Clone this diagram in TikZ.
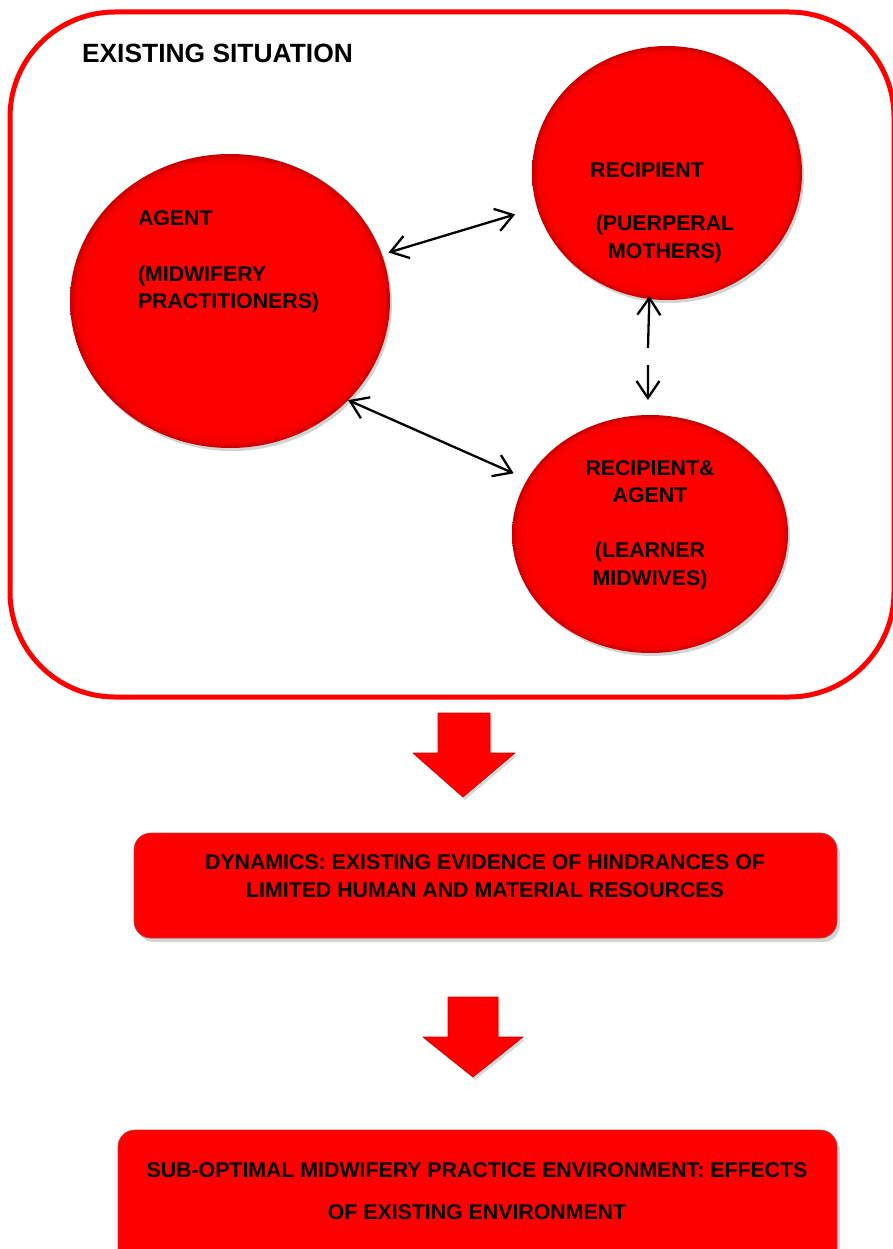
\documentclass[tikz,border=0pt]{standalone}
\usepackage{fontspec}
\setmainfont{Liberation Sans}
\usetikzlibrary{arrows.meta,shapes.geometric,shadows}

\definecolor{vivid}{HTML}{FF0000}
\definecolor{rim}{HTML}{C40000}
\definecolor{panelline}{HTML}{BE3C3C}

% red disc with a darker rim towards its edge
\pgfdeclareradialshading{bevelred}{\pgfpoint{0bp}{0bp}}{%
  color(0bp)=(vivid); color(22bp)=(vivid); color(24bp)=(vivid!85!rim);
  color(25bp)=(rim); color(50bp)=(rim)}

\begin{document}
\begin{tikzpicture}[x=1pt,y=-1pt,
  every node/.style={inner sep=0pt,outer sep=0pt},
  frame/.style={draw=vivid,line width=5pt,rounded corners=105pt,rectangle},
  title/.style={font=\fontsize{26.4}{30}\selectfont\bfseries},
  txt/.style={font=\fontsize{21.3}{27.6}\selectfont\bfseries,text=black},
  bubble/.style={ellipse,shade,shading=bevelred,
    drop shadow={opacity=0.35,shadow xshift=2pt,shadow yshift=-3pt}},
  twoway/.style={line width=2.3pt,
    {Straight Barb[length=17pt,width=23pt]}-{Straight Barb[length=17pt,width=23pt]}},
  oneway/.style={line width=2.3pt,-{Straight Barb[length=17pt,width=23pt]}},
  blockarrow/.style={fill=vivid,draw=rim,line width=0.6pt,line join=round,
    drop shadow={opacity=0.3,shadow xshift=2pt,shadow yshift=-3pt}},
  panel/.style={rectangle,rounded corners=17pt,fill=vivid,draw=panelline,line width=0.8pt,
    drop shadow={opacity=0.35,shadow xshift=3pt,shadow yshift=-4pt}}]

\useasboundingbox (0,0) rectangle (893,1249);

% outer frame of the existing situation
\node[frame,minimum width=884pt,minimum height=685pt] (frame) at (452,354.5) {};
\node[title,anchor=base west] (heading) at (82,63) {EXISTING SITUATION};

% the three actors
\node[bubble,minimum width=320pt,minimum height=294pt] (agent) at (230,301) {};
\node[bubble,minimum width=270pt,minimum height=254pt] (recip) at (667,173) {};
\node[bubble,minimum width=276pt,minimum height=238pt] (learn) at (650,534) {};

\node[txt,align=left,anchor=west] (agenttext) at (138,262)
  {AGENT\\[27.6pt](MIDWIFERY\\PRACTITIONERS)};
\node[txt] (reciptitle) at (647,170) {RECIPIENT};
\node[txt,align=center] (reciptext) at (665,239) {(PUERPERAL\\MOTHERS)};
\node[txt,align=center] (learntext) at (650,525)
  {RECIPIENT\&\\AGENT\\[27.6pt](LEARNER\\MIDWIVES)};

% relations between the actors
\draw[twoway,shorten <=7pt,shorten >=23pt] (agent.17) -- (recip.195);
\draw[twoway,shorten >=15pt] (agent.-40) -- (learn.156);
\coordinate (upend) at (648,348);
\coordinate (downstart) at (648,365);
\draw[oneway,shorten >=-3pt] (upend) -- (recip.262);
\draw[oneway,shorten >=15pt] (downstart) -- (learn.91);

% flow downwards
\path[blockarrow] (438,713) -- (490,713) -- (490,753) -- (515,753) -- (463,797)
  -- (413,753) -- (438,753) -- cycle;
\node[panel,minimum width=703pt,minimum height=105pt] (dynamics) at (485.5,885.5) {};
\node[txt,align=center] (dyntext) at (485,876)
  {DYNAMICS: EXISTING EVIDENCE OF HINDRANCES OF\\LIMITED HUMAN AND MATERIAL RESOURCES};

\path[blockarrow] (448,997) -- (498,997) -- (498,1037) -- (523,1037) -- (473,1077)
  -- (423,1037) -- (448,1037) -- cycle;
\node[panel,minimum width=719pt,minimum height=135pt] (effects) at (477.5,1197.5) {};
\node[txt,align=center] (efftext) at (477,1191)
  {SUB-OPTIMAL MIDWIFERY PRACTICE ENVIRONMENT: EFFECTS\\[14pt]OF EXISTING ENVIRONMENT};
\end{tikzpicture}
\end{document}
